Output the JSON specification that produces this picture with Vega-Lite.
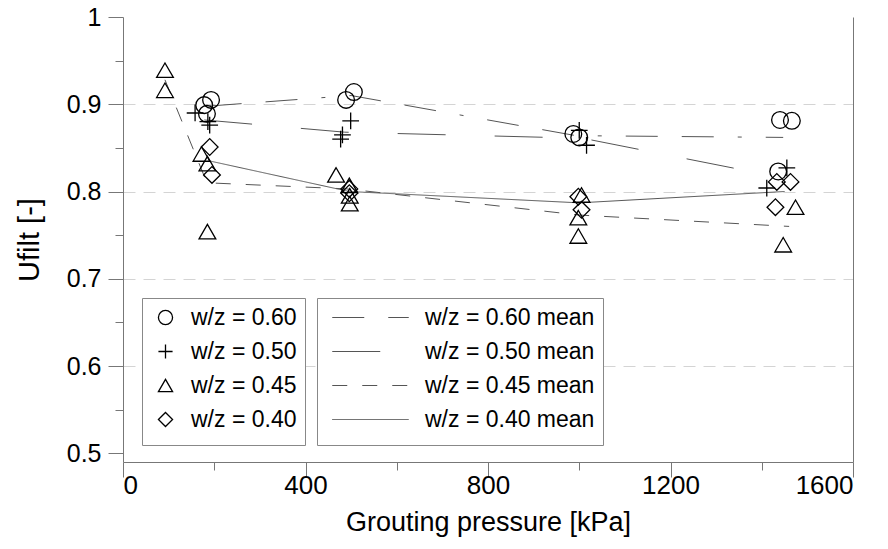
{
  "$schema": "https://vega.github.io/schema/vega-lite/v6.json",
  "width": 730,
  "height": 445,
  "autosize": "none",
  "padding": {"left": 123, "top": 17, "right": 35, "bottom": 87},
  "background": "white",
  "config": {
    "view": {"stroke": null},
    "font": "Liberation Sans",
    "axis": {"domainColor": "#777", "tickColor": "#777", "labelColor": "#000", "titleColor": "#000", "titleFontWeight": "normal", "labelFont": "Liberation Sans", "titleFont": "Liberation Sans"},
    "legend": {"labelFont": "Liberation Sans", "labelColor": "#000"}
  },
  "datasets": {
    "points": [
      {"p": 193, "u": 0.905, "group": "w/z = 0.60"},
      {"p": 178, "u": 0.899, "group": "w/z = 0.60"},
      {"p": 184, "u": 0.889, "group": "w/z = 0.60"},
      {"p": 506, "u": 0.914, "group": "w/z = 0.60"},
      {"p": 489, "u": 0.905, "group": "w/z = 0.60"},
      {"p": 987, "u": 0.866, "group": "w/z = 0.60"},
      {"p": 1000, "u": 0.862, "group": "w/z = 0.60"},
      {"p": 1440, "u": 0.882, "group": "w/z = 0.60"},
      {"p": 1466, "u": 0.881, "group": "w/z = 0.60"},
      {"p": 1436, "u": 0.823, "group": "w/z = 0.60"},
      {"p": 158, "u": 0.89, "group": "w/z = 0.50"},
      {"p": 186, "u": 0.88, "group": "w/z = 0.50"},
      {"p": 190, "u": 0.876, "group": "w/z = 0.50"},
      {"p": 499, "u": 0.881, "group": "w/z = 0.50"},
      {"p": 481, "u": 0.865, "group": "w/z = 0.50"},
      {"p": 477, "u": 0.86, "group": "w/z = 0.50"},
      {"p": 1000, "u": 0.87, "group": "w/z = 0.50"},
      {"p": 1016, "u": 0.853, "group": "w/z = 0.50"},
      {"p": 1455, "u": 0.827, "group": "w/z = 0.50"},
      {"p": 1411, "u": 0.804, "group": "w/z = 0.50"},
      {"p": 92, "u": 0.939, "group": "w/z = 0.45"},
      {"p": 92, "u": 0.916, "group": "w/z = 0.45"},
      {"p": 172, "u": 0.843, "group": "w/z = 0.45"},
      {"p": 185, "u": 0.832, "group": "w/z = 0.45"},
      {"p": 185, "u": 0.754, "group": "w/z = 0.45"},
      {"p": 467, "u": 0.819, "group": "w/z = 0.45"},
      {"p": 496, "u": 0.807, "group": "w/z = 0.45"},
      {"p": 497, "u": 0.795, "group": "w/z = 0.45"},
      {"p": 497, "u": 0.786, "group": "w/z = 0.45"},
      {"p": 1005, "u": 0.796, "group": "w/z = 0.45"},
      {"p": 998, "u": 0.77, "group": "w/z = 0.45"},
      {"p": 998, "u": 0.749, "group": "w/z = 0.45"},
      {"p": 1474, "u": 0.782, "group": "w/z = 0.45"},
      {"p": 1447, "u": 0.739, "group": "w/z = 0.45"},
      {"p": 190, "u": 0.851, "group": "w/z = 0.40"},
      {"p": 195, "u": 0.819, "group": "w/z = 0.40"},
      {"p": 496, "u": 0.803, "group": "w/z = 0.40"},
      {"p": 496, "u": 0.798, "group": "w/z = 0.40"},
      {"p": 998, "u": 0.794, "group": "w/z = 0.40"},
      {"p": 1005, "u": 0.779, "group": "w/z = 0.40"},
      {"p": 1433, "u": 0.811, "group": "w/z = 0.40"},
      {"p": 1463, "u": 0.811, "group": "w/z = 0.40"},
      {"p": 1430, "u": 0.782, "group": "w/z = 0.40"}
    ],
    "means": [
      {"p": 190, "u": 0.898, "series": "w/z = 0.60 mean"},
      {"p": 500, "u": 0.91, "series": "w/z = 0.60 mean"},
      {"p": 993, "u": 0.864, "series": "w/z = 0.60 mean"},
      {"p": 1447, "u": 0.862, "series": "w/z = 0.60 mean"},
      {"p": 178, "u": 0.882, "series": "w/z = 0.50 mean"},
      {"p": 486, "u": 0.868, "series": "w/z = 0.50 mean"},
      {"p": 1008, "u": 0.861, "series": "w/z = 0.50 mean"},
      {"p": 1433, "u": 0.817, "series": "w/z = 0.50 mean"},
      {"p": 92, "u": 0.928, "series": "w/z = 0.45 mean"},
      {"p": 184, "u": 0.81, "series": "w/z = 0.45 mean"},
      {"p": 490, "u": 0.803, "series": "w/z = 0.45 mean"},
      {"p": 1000, "u": 0.773, "series": "w/z = 0.45 mean"},
      {"p": 1460, "u": 0.76, "series": "w/z = 0.45 mean"},
      {"p": 190, "u": 0.835, "series": "w/z = 0.40 mean"},
      {"p": 496, "u": 0.8, "series": "w/z = 0.40 mean"},
      {"p": 1000, "u": 0.787, "series": "w/z = 0.40 mean"},
      {"p": 1450, "u": 0.8, "series": "w/z = 0.40 mean"}
    ]
  },
  "resolve": {"axis": {"x": "independent", "y": "independent"}},
  "layer": [
    {
      "data": {"name": "means"},
      "mark": {"type": "line", "color": "#555", "strokeWidth": 1},
      "encoding": {
        "x": {"field": "p", "type": "quantitative", "scale": {"domain": [0, 1600], "nice": false},
          "axis": {"orient": "bottom", "values": [200, 600, 1000, 1400], "tickSize": 8, "labels": false, "domain": false, "grid": false, "title": null}},
        "y": {"field": "u", "type": "quantitative", "scale": {"domain": [0.49, 1], "nice": false, "zero": false},
          "axis": {"orient": "left", "values": [0.55, 0.65, 0.75, 0.85, 0.95], "tickSize": 8, "labels": false, "domain": false, "grid": false, "title": null}},
        "strokeDash": {"field": "series", "type": "nominal",
          "scale": {"domain": ["w/z = 0.60 mean", "w/z = 0.50 mean", "w/z = 0.45 mean", "w/z = 0.40 mean"],
            "range": [[32, 24, 32, 24, 4, 24], [48, 49], [15, 15], [1, 0]]},
          "legend": {"orient": "none", "legendX": 194, "legendY": 281, "title": " ", "titleOrient": "bottom", "titleFontSize": 3, "titlePadding": 2,
            "symbolType": "M-4.5,0L4.5,0", "symbolSize": 289, "symbolStrokeColor": "#555", "symbolStrokeWidth": 1,
            "strokeColor": "#888", "fillColor": "white", "padding": 8, "labelLimit": 400,
            "labelFontSize": 23, "rowPadding": 10, "labelOffset": 43, "symbolOffset": 34}},
        "order": {"field": "p", "type": "quantitative"}
      }
    },
    {
      "data": {"name": "points"},
      "mark": {"type": "point", "filled": false, "color": "black", "strokeWidth": 1.3, "size": 280, "opacity": 1},
      "encoding": {
        "x": {"field": "p", "type": "quantitative", "scale": {"domain": [0, 1600], "nice": false},
          "axis": {"orient": "bottom", "values": [0, 400, 800, 1200, 1600], "format": "d", "tickSize": 15, "labelFontSize": 26, "labelPadding": -5, "grid": false,
            "title": "Grouting pressure [kPa]", "titleFontSize": 27, "titlePadding": 11}},
        "y": {"field": "u", "type": "quantitative", "scale": {"domain": [0.49, 1], "nice": false, "zero": false},
          "axis": {"orient": "left", "values": [0.5, 0.6, 0.7, 0.8, 0.9, 1], "format": ".1~f", "tickSize": 15, "labelFontSize": 25, "labelPadding": 7,
            "title": "Ufilt [-]", "titleFontSize": 29, "titlePadding": 22,
            "grid": true, "gridDash": [12, 8], "gridColor": {"condition": {"test": "datum.value > 0.55 && datum.value < 0.95", "value": "#d4d4d4"}, "value": "transparent"}}},
        "shape": {"field": "group", "type": "nominal",
          "scale": {"domain": ["w/z = 0.60", "w/z = 0.50", "w/z = 0.45", "w/z = 0.40"],
            "range": ["circle", "M-1,0L1,0M0,-1L0,1", "triangle-up", "diamond"]},
          "legend": {"orient": "none", "legendX": 19, "legendY": 281, "title": " ", "titleOrient": "bottom", "titleFontSize": 3, "titlePadding": 2,
            "symbolSize": 200, "symbolStrokeColor": "black", "symbolStrokeWidth": 1.3, "symbolFillColor": "transparent",
            "strokeColor": "#888", "fillColor": "white", "padding": 8,
            "labelFontSize": 23, "rowPadding": 10, "labelOffset": 14, "symbolOffset": 4}}
      }
    },
    {
      "data": {"name": "points"},
      "mark": {"type": "point", "opacity": 0},
      "encoding": {
        "x": {"field": "p", "type": "quantitative", "scale": {"domain": [0, 1600], "nice": false}, "axis": null},
        "y": {"field": "u", "type": "quantitative", "scale": {"domain": [0.49, 1], "nice": false, "zero": false},
          "axis": {"orient": "right", "labels": false, "ticks": false, "grid": false, "domain": true, "title": null}}
      }
    }
  ]
}
